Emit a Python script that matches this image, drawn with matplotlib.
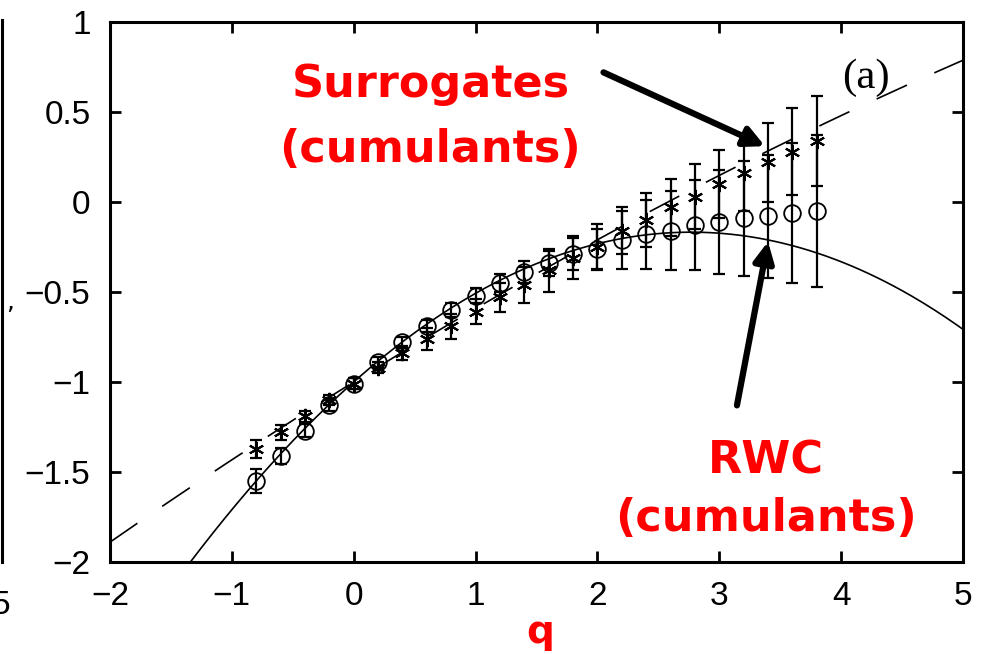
import numpy as np
import matplotlib.pyplot as plt
from matplotlib.lines import Line2D

# moments q
q = [-0.8, -0.6, -0.4, -0.2, 0.0, 0.2, 0.4, 0.6, 0.8, 1.0, 1.2, 1.4,
     1.6, 1.8, 2.0, 2.2, 2.4, 2.6, 2.8, 3.0, 3.2, 3.4, 3.6, 3.8]

# RWC (circles)
rwc = [-1.55, -1.41, -1.27, -1.13, -1.01, -0.89, -0.78, -0.69, -0.60, -0.52, -0.45, -0.39,
       -0.34, -0.29, -0.26, -0.21, -0.18, -0.16, -0.13, -0.11, -0.09, -0.08, -0.06, -0.05]
rwc_err = [0.065, 0.045, 0.035, 0.03, 0.03, 0.03, 0.03, 0.035, 0.04, 0.04, 0.05, 0.06,
           0.07, 0.09, 0.11, 0.16, 0.19, 0.22, 0.25, 0.29, 0.32, 0.34, 0.39, 0.42]

# surrogates (stars)
surr = [-1.37, -1.28, -1.19, -1.10, -1.01, -0.92, -0.84, -0.76, -0.69, -0.61, -0.53, -0.46,
        -0.38, -0.31, -0.25, -0.16, -0.10, -0.03, 0.03, 0.10, 0.16, 0.22, 0.28, 0.34]
surr_err = [0.05, 0.04, 0.03, 0.03, 0.03, 0.03, 0.04, 0.06, 0.07, 0.07, 0.08, 0.10,
            0.12, 0.12, 0.13, 0.13, 0.15, 0.16, 0.18, 0.19, 0.21, 0.22, 0.24, 0.25]

# cumulant fits: tau(q) = -1 + c1*q - c2*q^2/2
rwc_c1, rwc_c2 = 0.601, 0.217
surr_c1, surr_c2 = 0.420, 0.025

fig = plt.figure(figsize=(9.88, 6.54), dpi=100)
ax = fig.add_axes([0.1113, 0.1407, 0.8634, 0.8257])

qq = np.linspace(-2, 5, 300)
ax.plot(qq, -1 + rwc_c1 * qq - rwc_c2 * qq**2 / 2, color='black', lw=1.2)
ax.plot(qq, -1 + surr_c1 * qq - surr_c2 * qq**2 / 2, color='black', lw=1.2,
        dashes=(20, 18))

ax.errorbar(q, surr, yerr=surr_err, fmt='none', ecolor='black', elinewidth=1.6,
            capsize=4.5, capthick=1.6)
ax.errorbar(q, rwc, yerr=rwc_err, fmt='none', ecolor='black', elinewidth=1.6,
            capsize=4.5, capthick=1.6)
ax.plot(q, surr, ls='none', marker=(6, 2, 0), ms=11, mec='black', mew=1.5)
ax.plot(q, rwc, ls='none', marker='o', ms=12, mfc='none', mec='black', mew=1.3)

ax.set_xlim(-2, 5)
ax.set_ylim(-2, 1)
ax.set_xticks([-2, -1, 0, 1, 2, 3, 4, 5])
ax.set_yticks([-2, -1.5, -1, -0.5, 0, 0.5, 1])
ax.set_yticklabels(['\u22122', '\u22121.5', '\u22121', '\u22120.5', '0', '0.5', '1'])
ax.set_xticklabels(['\u22122', '\u22121', '0', '1', '2', '3', '4', '5'])
ax.tick_params(direction='in', length=8, width=2, top=True, right=True,
               labelsize=24, pad=14)
for lab in ax.get_xticklabels() + ax.get_yticklabels():
    lab.set_fontfamily('Liberation Sans')
for s in ax.spines.values():
    s.set_linewidth(2.2)

# annotations
red = '#ff0000'
ax.text(0.63, 0.65, 'Surrogates', color=red, fontsize=32, fontweight='bold',
        ha='center', va='center')
ax.text(0.63, 0.29, '(cumulants)', color=red, fontsize=32, fontweight='bold',
        ha='center', va='center')
ax.text(3.38, -1.44, 'RWC', color=red, fontsize=32, fontweight='bold',
        ha='center', va='center')
ax.text(3.38, -1.76, '(cumulants)', color=red, fontsize=32, fontweight='bold',
        ha='center', va='center')
ax.text(4.2, 0.69, '(a)', fontsize=31, family='Liberation Serif',
        ha='center', va='center')

ax.annotate('', xy=(3.375, 0.31), xytext=(2.05, 0.72),
            arrowprops=dict(arrowstyle='-|>', lw=4.5, color='black',
                            mutation_scale=30, shrinkA=0, shrinkB=0))
ax.annotate('', xy=(3.40, -0.22), xytext=(3.145, -1.13),
            arrowprops=dict(arrowstyle='-|>', lw=4.5, color='black',
                            mutation_scale=30, shrinkA=0, shrinkB=0))

fig.text(540 / 988, 1 - 632 / 654, 'q', color=red, fontsize=28, fontweight='bold',
         ha='center', va='center')

# bits of the neighbouring panels
fig.add_artist(Line2D([2 / 988, 2 / 988], [1 - 20 / 654, 1 - 562 / 654],
                      color='black', lw=2.2))
fig.text(-8 / 988, 1 - 605 / 654, '5', fontsize=24, family='Liberation Sans',
         ha='left', va='center')
fig.text(10 / 988, 1 - 302 / 654, ',', fontsize=18, ha='center', va='center')

fig.savefig('out.png', dpi=100)
